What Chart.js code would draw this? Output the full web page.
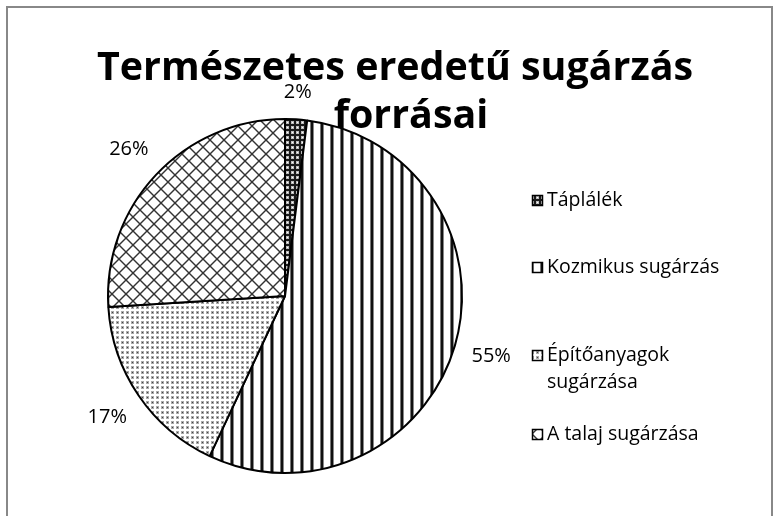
<!DOCTYPE html>
<html>
<head>
<meta charset="utf-8">
<script src="https://cdn.jsdelivr.net/npm/chart.js@4.4.1/dist/chart.umd.min.js"></script>
<style>
  html, body { margin: 0; padding: 0; background: #fff; }
</style>
</head>
<body>
<canvas id="chart" width="777" height="516"></canvas>
<script>
// adatok
const titleLines = ['Természetes eredetű sugárzás', 'forrásai'];
const categories = ['Táplálék', 'Kozmikus sugárzás', 'Építőanyagok sugárzása', 'A talaj sugárzása'];
const legendLines = [['Táplálék'], ['Kozmikus sugárzás'], ['Építőanyagok', 'sugárzása'], ['A talaj sugárzása']];
const shares = [2, 55, 17, 26];
const percentLabels = ['2%', '55%', '17%', '26%'];

const FONT = '"Open Sans", Lato, sans-serif';
const canvas = document.getElementById('chart');
const ctx = canvas.getContext('2d');

// mintázatok (Excel-szerű kitöltések)
function makePattern(size, draw) {
    const c = document.createElement('canvas');
    c.width = size; c.height = size;
    const g = c.getContext('2d');
    g.fillStyle = '#fff';
    g.fillRect(0, 0, size, size);
    draw(g, size);
    return ctx.createPattern(c, 'repeat');
}

const patFood = makePattern(5, g => {
    g.fillStyle = '#1a1a1a'; g.fillRect(0, 0, 5, 5);
    g.fillStyle = '#bbb'; g.fillRect(1, 1, 3, 3);
    g.fillStyle = '#fff'; g.fillRect(2, 2, 1, 1);
});
const patCosmic = makePattern(10, g => {
    g.fillStyle = '#777'; g.fillRect(0, 0, 1, 10);
    g.fillStyle = '#111'; g.fillRect(1, 0, 2, 10);
    g.fillStyle = '#888'; g.fillRect(3, 0, 1, 10);
});
const patBuilding = makePattern(5, g => {
    g.fillStyle = '#aaa'; g.fillRect(1, 1, 3, 3);
    g.fillStyle = '#444'; g.fillRect(2, 2, 1, 1);
});
const patSoil = makePattern(14, (g, s) => {
    g.strokeStyle = '#333';
    g.lineWidth = 1.4;
    for (let o = -s; o <= s; o += s) {
        g.beginPath(); g.moveTo(o, 0); g.lineTo(o + s, s); g.stroke();
        g.beginPath(); g.moveTo(o + s, 0); g.lineTo(o, s); g.stroke();
    }
});
const patterns = [patFood, patCosmic, patBuilding, patSoil];

// keret
const framePlugin = {
    id: 'frame',
    beforeDraw(chart) {
        const c = chart.ctx;
        c.save();
        c.fillStyle = '#fff';
        c.fillRect(0, 0, chart.width, chart.height);
        c.strokeStyle = '#888';
        c.lineWidth = 2;
        c.strokeRect(7, 7, 765, 600);
        c.restore();
    }
};

// százalék feliratok a körcikkek mellett
const percentPlugin = {
    id: 'percentLabels',
    afterDatasetsDraw(chart) {
        const c = chart.ctx;
        const meta = chart.getDatasetMeta(0);
        c.save();
        c.font = '20px ' + FONT;
        c.fillStyle = '#000';
        c.textAlign = 'center';
        c.textBaseline = 'middle';
        meta.data.forEach((arc, i) => {
            const mid = (arc.startAngle + arc.endAngle) / 2;
            const w = c.measureText(percentLabels[i]).width;
            const h = 20;
            const r = arc.outerRadius + 16 + Math.abs(Math.cos(mid)) * w / 2 + Math.abs(Math.sin(mid)) * h / 2;
            c.fillText(percentLabels[i], arc.x + Math.cos(mid) * r, arc.y + Math.sin(mid) * r);
        });
        c.restore();
    }
};

// cím a kör fölött (szélességre illesztve)
const titlePlugin = {
    id: 'bigTitle',
    afterDraw(chart) {
        const c = chart.ctx;
        c.save();
        c.font = 'bold 40px ' + FONT;
        const size = 40 * 596 / c.measureText(titleLines[0]).width;
        c.font = 'bold ' + size.toFixed(1) + 'px ' + FONT;
        c.fillStyle = '#000';
        c.textAlign = 'center';
        c.textBaseline = 'alphabetic';
        c.fillText(titleLines[0], 395, 80);
        c.fillText(titleLines[1], 411, 128);
        c.restore();
    }
};

// jelmagyarázat
const legendPlugin = {
    id: 'sideLegend',
    afterDraw(chart) {
        const c = chart.ctx;
        const rowY = [200, 267, 355, 434];
        c.save();
        c.font = '19.5px ' + FONT;
        c.textBaseline = 'middle';
        legendLines.forEach((lines, i) => {
            c.fillStyle = patterns[i];
            c.fillRect(532, rowY[i] - 5, 11, 11);
            c.strokeStyle = '#000';
            c.lineWidth = 1.5;
            c.strokeRect(532.5, rowY[i] - 4.5, 10, 10);
            c.fillStyle = '#000';
            lines.forEach((t, j) => c.fillText(t, 547, rowY[i] + j * 27));
        });
        c.restore();
    }
};

new Chart(canvas, {
    type: 'pie',
    data: {
        labels: categories,
        datasets: [{
            data: shares,
            backgroundColor: patterns,
            borderColor: '#000',
            borderWidth: 2
        }]
    },
    options: {
        responsive: false,
        animation: false,
        layout: { padding: { left: 107, right: 314, top: 118, bottom: 42 } },
        plugins: {
            legend: { display: false },
            tooltip: { enabled: false },
            title: { display: false }
        }
    },
    plugins: [framePlugin, percentPlugin, titlePlugin, legendPlugin]
});
</script>
</body>
</html>
